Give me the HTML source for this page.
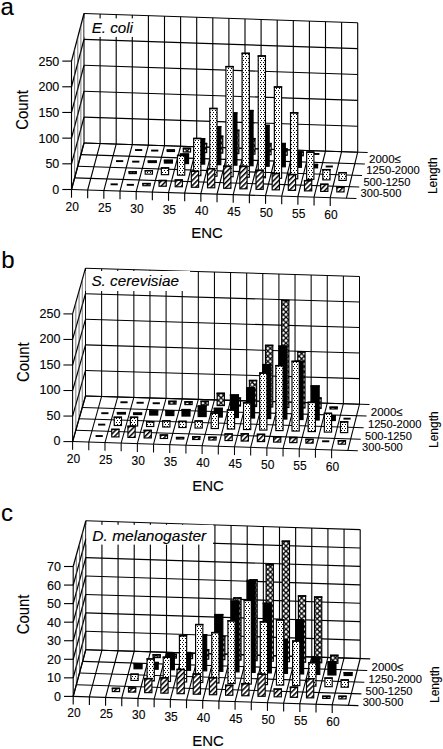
<!DOCTYPE html>
<html><head><meta charset="utf-8">
<style>
html,body{margin:0;padding:0;background:#fff;}
body{width:443px;height:749px;overflow:hidden;}
svg{display:block;}
text{font-family:"Liberation Sans",sans-serif;fill:#000;stroke:#000;stroke-width:0.12px;}
</style></head><body>
<svg width="443" height="749" viewBox="0 0 443 749">
<defs>
<pattern id="hatch" patternUnits="userSpaceOnUse" width="3.6" height="3.6" patternTransform="rotate(45)">
  <rect width="3.6" height="3.6" fill="#fff"/>
  <rect x="0" y="0" width="1.5" height="3.6" fill="#000"/>
</pattern>
<pattern id="dots" patternUnits="userSpaceOnUse" width="3" height="4">
  <rect width="3" height="4" fill="#fff"/>
  <rect x="0" y="0" width="1" height="1" fill="#000"/>
  <rect x="2" y="2" width="1" height="1" fill="#000"/>
</pattern>
<pattern id="xh" patternUnits="userSpaceOnUse" width="5.2" height="5.2">
  <rect width="5.2" height="5.2" fill="#fff"/>
  <path d="M-1,-1 L6.2,6.2 M6.2,-1 L-1,6.2" stroke="#000" stroke-width="1.3"/>
</pattern>
</defs>
<rect width="443" height="749" fill="#fff"/>
<polygon points="84,143 357.7,152.2 357.7,22.7 84,13.5" fill="#fff" stroke="none" stroke-width="0" />
<line x1="84" y1="143" x2="357.7" y2="152.2" stroke="#000" stroke-width="1.12"/>
<line x1="84" y1="117.1" x2="357.7" y2="126.3" stroke="#000" stroke-width="1.12"/>
<line x1="84" y1="91.2" x2="357.7" y2="100.4" stroke="#000" stroke-width="1.12"/>
<line x1="84" y1="65.3" x2="357.7" y2="74.5" stroke="#000" stroke-width="1.12"/>
<line x1="84" y1="39.4" x2="357.7" y2="48.6" stroke="#000" stroke-width="1.12"/>
<line x1="84" y1="13.5" x2="357.7" y2="22.7" stroke="#000" stroke-width="1.12"/>
<line x1="84" y1="143" x2="84" y2="13.5" stroke="#000" stroke-width="1.12"/>
<line x1="100.1" y1="143.54" x2="100.1" y2="14.04" stroke="#000" stroke-width="1.12"/>
<line x1="116.2" y1="144.08" x2="116.2" y2="14.58" stroke="#000" stroke-width="1.12"/>
<line x1="132.3" y1="144.62" x2="132.3" y2="15.12" stroke="#000" stroke-width="1.12"/>
<line x1="148.4" y1="145.16" x2="148.4" y2="15.66" stroke="#000" stroke-width="1.12"/>
<line x1="164.5" y1="145.71" x2="164.5" y2="16.21" stroke="#000" stroke-width="1.12"/>
<line x1="180.6" y1="146.25" x2="180.6" y2="16.75" stroke="#000" stroke-width="1.12"/>
<line x1="196.7" y1="146.79" x2="196.7" y2="17.29" stroke="#000" stroke-width="1.12"/>
<line x1="212.8" y1="147.33" x2="212.8" y2="17.83" stroke="#000" stroke-width="1.12"/>
<line x1="228.9" y1="147.87" x2="228.9" y2="18.37" stroke="#000" stroke-width="1.12"/>
<line x1="245" y1="148.41" x2="245" y2="18.91" stroke="#000" stroke-width="1.12"/>
<line x1="261.1" y1="148.95" x2="261.1" y2="19.45" stroke="#000" stroke-width="1.12"/>
<line x1="277.2" y1="149.49" x2="277.2" y2="19.99" stroke="#000" stroke-width="1.12"/>
<line x1="293.3" y1="150.04" x2="293.3" y2="20.54" stroke="#000" stroke-width="1.12"/>
<line x1="309.4" y1="150.58" x2="309.4" y2="21.08" stroke="#000" stroke-width="1.12"/>
<line x1="325.5" y1="151.12" x2="325.5" y2="21.62" stroke="#000" stroke-width="1.12"/>
<line x1="341.6" y1="151.66" x2="341.6" y2="22.16" stroke="#000" stroke-width="1.12"/>
<line x1="357.7" y1="152.2" x2="357.7" y2="22.7" stroke="#000" stroke-width="1.12"/>
<line x1="71.5" y1="189.5" x2="84" y2="143" stroke="#000" stroke-width="1.27"/>
<line x1="71.5" y1="163.82" x2="84" y2="117.1" stroke="#000" stroke-width="1.27"/>
<line x1="71.5" y1="138.14" x2="84" y2="91.2" stroke="#000" stroke-width="1.27"/>
<line x1="71.5" y1="112.46" x2="84" y2="65.3" stroke="#000" stroke-width="1.27"/>
<line x1="71.5" y1="86.78" x2="84" y2="39.4" stroke="#000" stroke-width="1.27"/>
<line x1="71.5" y1="61.1" x2="84" y2="13.5" stroke="#000" stroke-width="1.27"/>
<line x1="71.5" y1="189.5" x2="71.5" y2="61.1" stroke="#000" stroke-width="1.12"/>
<line x1="74.62" y1="177.88" x2="74.62" y2="49.2" stroke="#444" stroke-width="0.7"/>
<line x1="77.75" y1="166.25" x2="77.75" y2="37.3" stroke="#444" stroke-width="0.7"/>
<line x1="80.88" y1="154.62" x2="80.88" y2="25.4" stroke="#444" stroke-width="0.7"/>
<line x1="71.5" y1="189.5" x2="356.43" y2="198.52" stroke="#000" stroke-width="1.12"/>
<line x1="74.62" y1="177.88" x2="359.24" y2="187.02" stroke="#000" stroke-width="1.12"/>
<line x1="77.75" y1="166.25" x2="362.05" y2="175.53" stroke="#000" stroke-width="1.12"/>
<line x1="80.88" y1="154.62" x2="364.87" y2="164.03" stroke="#000" stroke-width="1.12"/>
<line x1="84" y1="143" x2="367.68" y2="152.54" stroke="#000" stroke-width="1.12"/>
<line x1="71.5" y1="189.5" x2="84" y2="143" stroke="#000" stroke-width="1.12"/>
<line x1="71.5" y1="189.5" x2="71.5" y2="197.7" stroke="#000" stroke-width="1.12"/>
<line x1="87.67" y1="190.01" x2="100.1" y2="143.54" stroke="#000" stroke-width="1.12"/>
<line x1="87.67" y1="190.01" x2="87.67" y2="198.21" stroke="#000" stroke-width="1.12"/>
<line x1="103.84" y1="190.52" x2="116.2" y2="144.08" stroke="#000" stroke-width="1.12"/>
<line x1="103.84" y1="190.52" x2="103.84" y2="198.72" stroke="#000" stroke-width="1.12"/>
<line x1="120.01" y1="191.04" x2="132.3" y2="144.62" stroke="#000" stroke-width="1.12"/>
<line x1="120.01" y1="191.04" x2="120.01" y2="199.24" stroke="#000" stroke-width="1.12"/>
<line x1="136.18" y1="191.55" x2="148.4" y2="145.16" stroke="#000" stroke-width="1.12"/>
<line x1="136.18" y1="191.55" x2="136.18" y2="199.75" stroke="#000" stroke-width="1.12"/>
<line x1="152.35" y1="192.06" x2="164.5" y2="145.71" stroke="#000" stroke-width="1.12"/>
<line x1="152.35" y1="192.06" x2="152.35" y2="200.26" stroke="#000" stroke-width="1.12"/>
<line x1="168.52" y1="192.57" x2="180.6" y2="146.25" stroke="#000" stroke-width="1.12"/>
<line x1="168.52" y1="192.57" x2="168.52" y2="200.77" stroke="#000" stroke-width="1.12"/>
<line x1="184.69" y1="193.08" x2="196.7" y2="146.79" stroke="#000" stroke-width="1.12"/>
<line x1="184.69" y1="193.08" x2="184.69" y2="201.28" stroke="#000" stroke-width="1.12"/>
<line x1="200.86" y1="193.59" x2="212.8" y2="147.33" stroke="#000" stroke-width="1.12"/>
<line x1="200.86" y1="193.59" x2="200.86" y2="201.79" stroke="#000" stroke-width="1.12"/>
<line x1="217.04" y1="194.11" x2="228.9" y2="147.87" stroke="#000" stroke-width="1.12"/>
<line x1="217.04" y1="194.11" x2="217.04" y2="202.31" stroke="#000" stroke-width="1.12"/>
<line x1="233.21" y1="194.62" x2="245" y2="148.41" stroke="#000" stroke-width="1.12"/>
<line x1="233.21" y1="194.62" x2="233.21" y2="202.82" stroke="#000" stroke-width="1.12"/>
<line x1="249.38" y1="195.13" x2="261.1" y2="148.95" stroke="#000" stroke-width="1.12"/>
<line x1="249.38" y1="195.13" x2="249.38" y2="203.33" stroke="#000" stroke-width="1.12"/>
<line x1="265.55" y1="195.64" x2="277.2" y2="149.49" stroke="#000" stroke-width="1.12"/>
<line x1="265.55" y1="195.64" x2="265.55" y2="203.84" stroke="#000" stroke-width="1.12"/>
<line x1="281.72" y1="196.15" x2="293.3" y2="150.04" stroke="#000" stroke-width="1.12"/>
<line x1="281.72" y1="196.15" x2="281.72" y2="204.35" stroke="#000" stroke-width="1.12"/>
<line x1="297.89" y1="196.66" x2="309.4" y2="150.58" stroke="#000" stroke-width="1.12"/>
<line x1="297.89" y1="196.66" x2="297.89" y2="204.86" stroke="#000" stroke-width="1.12"/>
<line x1="314.06" y1="197.18" x2="325.5" y2="151.12" stroke="#000" stroke-width="1.12"/>
<line x1="314.06" y1="197.18" x2="314.06" y2="205.38" stroke="#000" stroke-width="1.12"/>
<line x1="330.23" y1="197.69" x2="341.6" y2="151.66" stroke="#000" stroke-width="1.12"/>
<line x1="330.23" y1="197.69" x2="330.23" y2="205.89" stroke="#000" stroke-width="1.12"/>
<line x1="346.4" y1="198.2" x2="357.7" y2="152.2" stroke="#000" stroke-width="1.12"/>
<line x1="62.3" y1="189.5" x2="71.5" y2="189.5" stroke="#000" stroke-width="1.12"/>
<line x1="62.3" y1="163.82" x2="71.5" y2="163.82" stroke="#000" stroke-width="1.12"/>
<line x1="62.3" y1="138.14" x2="71.5" y2="138.14" stroke="#000" stroke-width="1.12"/>
<line x1="62.3" y1="112.46" x2="71.5" y2="112.46" stroke="#000" stroke-width="1.12"/>
<line x1="62.3" y1="86.78" x2="71.5" y2="86.78" stroke="#000" stroke-width="1.12"/>
<line x1="62.3" y1="61.1" x2="71.5" y2="61.1" stroke="#000" stroke-width="1.12"/>
<rect x="84.5" y="18.4" width="55.5" height="18.5" fill="#fff"/>
<text x="91.7" y="33.3" style="font-size:14px;font-style:italic;" text-anchor="start" textLength="41.3" lengthAdjust="spacingAndGlyphs" >E. coli</text>
<rect x="135.02" y="149.09" width="7.2" height="1.9" fill="#000"/>
<rect x="151.13" y="149.63" width="7.2" height="1.9" fill="#000"/>
<rect x="167.21" y="149.94" width="7.25" height="1.55" fill="url(#xh)" stroke="#000" stroke-width="1.15"/>
<rect x="166.64" y="149.37" width="8.4" height="1.5" fill="#000"/>
<rect x="183.32" y="148.18" width="7.25" height="3.85" fill="url(#xh)" stroke="#000" stroke-width="1.15"/>
<rect x="182.74" y="147.61" width="8.4" height="1.5" fill="#000"/>
<rect x="199.43" y="143.42" width="7.25" height="9.15" fill="url(#xh)" stroke="#000" stroke-width="1.15"/>
<rect x="198.85" y="142.84" width="8.4" height="1.5" fill="#000"/>
<rect x="215.54" y="136.16" width="7.25" height="16.95" fill="url(#xh)" stroke="#000" stroke-width="1.15"/>
<rect x="214.96" y="135.58" width="8.4" height="1.5" fill="#000"/>
<rect x="231.65" y="130.19" width="7.25" height="23.45" fill="url(#xh)" stroke="#000" stroke-width="1.15"/>
<rect x="231.07" y="129.62" width="8.4" height="1.5" fill="#000"/>
<rect x="247.76" y="138.53" width="7.25" height="15.65" fill="url(#xh)" stroke="#000" stroke-width="1.15"/>
<rect x="247.18" y="137.96" width="8.4" height="1.5" fill="#000"/>
<rect x="263.86" y="143.47" width="7.25" height="11.25" fill="url(#xh)" stroke="#000" stroke-width="1.15"/>
<rect x="263.29" y="142.89" width="8.4" height="1.5" fill="#000"/>
<rect x="279.97" y="148.91" width="7.25" height="6.35" fill="url(#xh)" stroke="#000" stroke-width="1.15"/>
<rect x="279.4" y="148.33" width="8.4" height="1.5" fill="#000"/>
<rect x="296.08" y="151.94" width="7.25" height="3.85" fill="url(#xh)" stroke="#000" stroke-width="1.15"/>
<rect x="295.51" y="151.37" width="8.4" height="1.5" fill="#000"/>
<rect x="312.22" y="153.01" width="7.2" height="1.9" fill="#000"/>
<rect x="116.03" y="160.16" width="7.2" height="1.9" fill="#000"/>
<rect x="132.16" y="160.69" width="7.2" height="1.9" fill="#000"/>
<rect x="148.26" y="161" width="8.05" height="1.55" fill="#000" stroke="#000" stroke-width="1.15"/>
<rect x="147.68" y="160.42" width="9.2" height="1.5" fill="#000"/>
<rect x="164.38" y="160.23" width="8.05" height="2.85" fill="#000" stroke="#000" stroke-width="1.15"/>
<rect x="163.81" y="159.65" width="9.2" height="1.5" fill="#000"/>
<rect x="180.51" y="153.96" width="8.05" height="9.65" fill="#000" stroke="#000" stroke-width="1.15"/>
<rect x="179.93" y="153.38" width="9.2" height="1.5" fill="#000"/>
<rect x="196.64" y="138.59" width="8.05" height="25.55" fill="#000" stroke="#000" stroke-width="1.15"/>
<rect x="196.06" y="138.01" width="9.2" height="1.5" fill="#000"/>
<rect x="212.76" y="126.62" width="8.05" height="38.05" fill="#000" stroke="#000" stroke-width="1.15"/>
<rect x="212.19" y="126.04" width="9.2" height="1.5" fill="#000"/>
<rect x="228.89" y="112.85" width="8.05" height="52.35" fill="#000" stroke="#000" stroke-width="1.15"/>
<rect x="228.31" y="112.27" width="9.2" height="1.5" fill="#000"/>
<rect x="245.02" y="110.48" width="8.05" height="55.25" fill="#000" stroke="#000" stroke-width="1.15"/>
<rect x="244.44" y="109.9" width="9.2" height="1.5" fill="#000"/>
<rect x="261.14" y="125.31" width="8.05" height="40.95" fill="#000" stroke="#000" stroke-width="1.15"/>
<rect x="260.57" y="124.73" width="9.2" height="1.5" fill="#000"/>
<rect x="277.27" y="143.44" width="8.05" height="23.35" fill="#000" stroke="#000" stroke-width="1.15"/>
<rect x="276.69" y="142.86" width="9.2" height="1.5" fill="#000"/>
<rect x="293.39" y="152.07" width="8.05" height="15.25" fill="#000" stroke="#000" stroke-width="1.15"/>
<rect x="292.82" y="151.49" width="9.2" height="1.5" fill="#000"/>
<rect x="309.52" y="164.4" width="8.05" height="3.45" fill="#000" stroke="#000" stroke-width="1.15"/>
<rect x="308.95" y="163.82" width="9.2" height="1.5" fill="#000"/>
<rect x="325.67" y="165.55" width="7.2" height="1.9" fill="#000"/>
<rect x="129.07" y="171.77" width="7.25" height="1.85" fill="url(#dots)" stroke="#000" stroke-width="1.15"/>
<rect x="128.49" y="171.19" width="8.4" height="1.5" fill="#000"/>
<rect x="145.21" y="170.59" width="7.25" height="3.55" fill="url(#dots)" stroke="#000" stroke-width="1.15"/>
<rect x="144.64" y="170.02" width="8.4" height="1.5" fill="#000"/>
<rect x="161.36" y="167.81" width="7.25" height="6.85" fill="url(#dots)" stroke="#000" stroke-width="1.15"/>
<rect x="160.78" y="167.24" width="8.4" height="1.5" fill="#000"/>
<rect x="177.5" y="155.34" width="7.25" height="19.85" fill="url(#dots)" stroke="#000" stroke-width="1.15"/>
<rect x="176.92" y="154.76" width="8.4" height="1.5" fill="#000"/>
<rect x="193.64" y="138.36" width="7.25" height="37.35" fill="url(#dots)" stroke="#000" stroke-width="1.15"/>
<rect x="193.07" y="137.78" width="8.4" height="1.5" fill="#000"/>
<rect x="209.79" y="108.38" width="7.25" height="67.85" fill="url(#dots)" stroke="#000" stroke-width="1.15"/>
<rect x="209.21" y="107.81" width="8.4" height="1.5" fill="#000"/>
<rect x="225.93" y="66.5" width="7.25" height="110.25" fill="url(#dots)" stroke="#000" stroke-width="1.15"/>
<rect x="225.36" y="65.93" width="8.4" height="1.5" fill="#000"/>
<rect x="242.08" y="53.23" width="7.25" height="124.05" fill="url(#dots)" stroke="#000" stroke-width="1.15"/>
<rect x="241.5" y="52.65" width="8.4" height="1.5" fill="#000"/>
<rect x="258.22" y="55.85" width="7.25" height="121.95" fill="url(#dots)" stroke="#000" stroke-width="1.15"/>
<rect x="257.64" y="55.27" width="8.4" height="1.5" fill="#000"/>
<rect x="274.36" y="86.87" width="7.25" height="91.45" fill="url(#dots)" stroke="#000" stroke-width="1.15"/>
<rect x="273.79" y="86.3" width="8.4" height="1.5" fill="#000"/>
<rect x="290.51" y="112.7" width="7.25" height="66.15" fill="url(#dots)" stroke="#000" stroke-width="1.15"/>
<rect x="289.93" y="112.12" width="8.4" height="1.5" fill="#000"/>
<rect x="306.65" y="152.02" width="7.25" height="27.35" fill="url(#dots)" stroke="#000" stroke-width="1.15"/>
<rect x="306.08" y="151.44" width="8.4" height="1.5" fill="#000"/>
<rect x="322.8" y="169.54" width="7.25" height="10.35" fill="url(#dots)" stroke="#000" stroke-width="1.15"/>
<rect x="322.22" y="168.97" width="8.4" height="1.5" fill="#000"/>
<rect x="338.94" y="172.56" width="7.25" height="7.85" fill="url(#dots)" stroke="#000" stroke-width="1.15"/>
<rect x="338.37" y="171.99" width="8.4" height="1.5" fill="#000"/>
<rect x="110.57" y="183.38" width="7.2" height="1.9" fill="#000"/>
<rect x="126.73" y="183.89" width="7.2" height="1.9" fill="#000"/>
<rect x="142.87" y="183.48" width="7.25" height="2.25" fill="url(#hatch)" stroke="#000" stroke-width="1.15"/>
<rect x="142.29" y="182.91" width="8.4" height="1.5" fill="#000"/>
<rect x="159.03" y="180.4" width="7.25" height="5.85" fill="url(#hatch)" stroke="#000" stroke-width="1.15"/>
<rect x="158.45" y="179.82" width="8.4" height="1.5" fill="#000"/>
<rect x="175.19" y="179.91" width="7.25" height="6.85" fill="url(#hatch)" stroke="#000" stroke-width="1.15"/>
<rect x="174.61" y="179.34" width="8.4" height="1.5" fill="#000"/>
<rect x="191.35" y="171.13" width="7.25" height="16.15" fill="url(#hatch)" stroke="#000" stroke-width="1.15"/>
<rect x="190.78" y="170.55" width="8.4" height="1.5" fill="#000"/>
<rect x="207.51" y="168.54" width="7.25" height="19.25" fill="url(#hatch)" stroke="#000" stroke-width="1.15"/>
<rect x="206.94" y="167.97" width="8.4" height="1.5" fill="#000"/>
<rect x="223.67" y="166.16" width="7.25" height="22.15" fill="url(#hatch)" stroke="#000" stroke-width="1.15"/>
<rect x="223.1" y="165.58" width="8.4" height="1.5" fill="#000"/>
<rect x="239.84" y="166.17" width="7.25" height="22.65" fill="url(#hatch)" stroke="#000" stroke-width="1.15"/>
<rect x="239.26" y="165.6" width="8.4" height="1.5" fill="#000"/>
<rect x="256" y="170.19" width="7.25" height="19.15" fill="url(#hatch)" stroke="#000" stroke-width="1.15"/>
<rect x="255.42" y="169.62" width="8.4" height="1.5" fill="#000"/>
<rect x="272.16" y="173.41" width="7.25" height="16.45" fill="url(#hatch)" stroke="#000" stroke-width="1.15"/>
<rect x="271.58" y="172.83" width="8.4" height="1.5" fill="#000"/>
<rect x="288.32" y="174.42" width="7.25" height="15.95" fill="url(#hatch)" stroke="#000" stroke-width="1.15"/>
<rect x="287.75" y="173.85" width="8.4" height="1.5" fill="#000"/>
<rect x="304.48" y="180.54" width="7.25" height="10.35" fill="url(#hatch)" stroke="#000" stroke-width="1.15"/>
<rect x="303.91" y="179.96" width="8.4" height="1.5" fill="#000"/>
<rect x="320.64" y="184.15" width="7.25" height="7.25" fill="url(#hatch)" stroke="#000" stroke-width="1.15"/>
<rect x="320.07" y="183.58" width="8.4" height="1.5" fill="#000"/>
<rect x="336.81" y="187.07" width="7.25" height="4.85" fill="url(#hatch)" stroke="#000" stroke-width="1.15"/>
<rect x="336.23" y="186.49" width="8.4" height="1.5" fill="#000"/>
<text x="59.3" y="194.1" style="font-size:12.5px;" text-anchor="end" >0</text>
<text x="59.3" y="168.42" style="font-size:12.5px;" text-anchor="end" >50</text>
<text x="59.3" y="142.74" style="font-size:12.5px;" text-anchor="end" >100</text>
<text x="59.3" y="117.06" style="font-size:12.5px;" text-anchor="end" >150</text>
<text x="59.3" y="91.38" style="font-size:12.5px;" text-anchor="end" >200</text>
<text x="59.3" y="65.7" style="font-size:12.5px;" text-anchor="end" >250</text>
<text x="72.3" y="210.5" style="font-size:12px;" text-anchor="middle" >20</text>
<text x="104.64" y="211.52" style="font-size:12px;" text-anchor="middle" >25</text>
<text x="136.98" y="212.55" style="font-size:12px;" text-anchor="middle" >30</text>
<text x="169.32" y="213.57" style="font-size:12px;" text-anchor="middle" >35</text>
<text x="201.66" y="214.59" style="font-size:12px;" text-anchor="middle" >40</text>
<text x="234.01" y="215.62" style="font-size:12px;" text-anchor="middle" >45</text>
<text x="266.35" y="216.64" style="font-size:12px;" text-anchor="middle" >50</text>
<text x="298.69" y="217.66" style="font-size:12px;" text-anchor="middle" >55</text>
<text x="331.03" y="218.69" style="font-size:12px;" text-anchor="middle" >60</text>
<text x="360.61" y="197.45" style="font-size:11.5px;" text-anchor="start" textLength="40.7" lengthAdjust="spacingAndGlyphs" >300-500</text>
<text x="363.44" y="185.95" style="font-size:11.5px;" text-anchor="start" textLength="46.9" lengthAdjust="spacingAndGlyphs" >500-1250</text>
<text x="366.26" y="174.45" style="font-size:11.5px;" text-anchor="start" textLength="53.5" lengthAdjust="spacingAndGlyphs" >1250-2000</text>
<text x="369.09" y="162.95" style="font-size:11.5px;" text-anchor="start" textLength="31.8" lengthAdjust="spacingAndGlyphs" >2000≤</text>
<text x="191.3" y="238.1" style="font-size:14.5px;" text-anchor="start" textLength="31.6" lengthAdjust="spacingAndGlyphs" >ENC</text>
<text x="28" y="129.7" style="font-size:16.8px;" text-anchor="start" textLength="39.6" lengthAdjust="spacingAndGlyphs" transform="rotate(-90 28 129.7)" >Count</text>
<text x="437.1" y="194.1" style="font-size:13.2px;" text-anchor="start" textLength="36.7" lengthAdjust="spacingAndGlyphs" transform="rotate(-90 437.1 194.1)" >Length</text>
<text x="0.5" y="14.8" style="font-size:24px;" text-anchor="start" >a</text>
<polygon points="85.5,396 359.5,404.2 359.5,276.4 85.5,268.2" fill="#fff" stroke="none" stroke-width="0" />
<line x1="85.5" y1="396" x2="359.5" y2="404.2" stroke="#000" stroke-width="1.05"/>
<line x1="85.5" y1="370.44" x2="359.5" y2="378.64" stroke="#000" stroke-width="1.05"/>
<line x1="85.5" y1="344.88" x2="359.5" y2="353.08" stroke="#000" stroke-width="1.05"/>
<line x1="85.5" y1="319.32" x2="359.5" y2="327.52" stroke="#000" stroke-width="1.05"/>
<line x1="85.5" y1="293.76" x2="359.5" y2="301.96" stroke="#000" stroke-width="1.05"/>
<line x1="85.5" y1="268.2" x2="359.5" y2="276.4" stroke="#000" stroke-width="1.05"/>
<line x1="85.5" y1="396" x2="85.5" y2="268.2" stroke="#000" stroke-width="1.05"/>
<line x1="101.62" y1="396.48" x2="101.62" y2="268.68" stroke="#000" stroke-width="1.05"/>
<line x1="117.74" y1="396.96" x2="117.74" y2="269.16" stroke="#000" stroke-width="1.05"/>
<line x1="133.85" y1="397.45" x2="133.85" y2="269.65" stroke="#000" stroke-width="1.05"/>
<line x1="149.97" y1="397.93" x2="149.97" y2="270.13" stroke="#000" stroke-width="1.05"/>
<line x1="166.09" y1="398.41" x2="166.09" y2="270.61" stroke="#000" stroke-width="1.05"/>
<line x1="182.21" y1="398.89" x2="182.21" y2="271.09" stroke="#000" stroke-width="1.05"/>
<line x1="198.32" y1="399.38" x2="198.32" y2="271.58" stroke="#000" stroke-width="1.05"/>
<line x1="214.44" y1="399.86" x2="214.44" y2="272.06" stroke="#000" stroke-width="1.05"/>
<line x1="230.56" y1="400.34" x2="230.56" y2="272.54" stroke="#000" stroke-width="1.05"/>
<line x1="246.68" y1="400.82" x2="246.68" y2="273.02" stroke="#000" stroke-width="1.05"/>
<line x1="262.79" y1="401.31" x2="262.79" y2="273.51" stroke="#000" stroke-width="1.05"/>
<line x1="278.91" y1="401.79" x2="278.91" y2="273.99" stroke="#000" stroke-width="1.05"/>
<line x1="295.03" y1="402.27" x2="295.03" y2="274.47" stroke="#000" stroke-width="1.05"/>
<line x1="311.15" y1="402.75" x2="311.15" y2="274.95" stroke="#000" stroke-width="1.05"/>
<line x1="327.26" y1="403.24" x2="327.26" y2="275.44" stroke="#000" stroke-width="1.05"/>
<line x1="343.38" y1="403.72" x2="343.38" y2="275.92" stroke="#000" stroke-width="1.05"/>
<line x1="359.5" y1="404.2" x2="359.5" y2="276.4" stroke="#000" stroke-width="1.05"/>
<line x1="72.6" y1="441.6" x2="85.5" y2="396" stroke="#000" stroke-width="1.2"/>
<line x1="72.6" y1="416.06" x2="85.5" y2="370.44" stroke="#000" stroke-width="1.2"/>
<line x1="72.6" y1="390.52" x2="85.5" y2="344.88" stroke="#000" stroke-width="1.2"/>
<line x1="72.6" y1="364.98" x2="85.5" y2="319.32" stroke="#000" stroke-width="1.2"/>
<line x1="72.6" y1="339.44" x2="85.5" y2="293.76" stroke="#000" stroke-width="1.2"/>
<line x1="72.6" y1="313.9" x2="85.5" y2="268.2" stroke="#000" stroke-width="1.2"/>
<line x1="72.6" y1="441.6" x2="72.6" y2="313.9" stroke="#000" stroke-width="1.05"/>
<line x1="75.82" y1="430.2" x2="75.82" y2="302.48" stroke="#444" stroke-width="0.7"/>
<line x1="79.05" y1="418.8" x2="79.05" y2="291.05" stroke="#444" stroke-width="0.7"/>
<line x1="82.28" y1="407.4" x2="82.28" y2="279.62" stroke="#444" stroke-width="0.7"/>
<line x1="72.6" y1="441.6" x2="357.84" y2="450.82" stroke="#000" stroke-width="1.05"/>
<line x1="75.82" y1="430.2" x2="360.75" y2="439.24" stroke="#000" stroke-width="1.05"/>
<line x1="79.05" y1="418.8" x2="363.66" y2="427.66" stroke="#000" stroke-width="1.05"/>
<line x1="82.28" y1="407.4" x2="366.58" y2="416.08" stroke="#000" stroke-width="1.05"/>
<line x1="85.5" y1="396" x2="369.49" y2="404.5" stroke="#000" stroke-width="1.05"/>
<line x1="72.6" y1="441.6" x2="85.5" y2="396" stroke="#000" stroke-width="1.05"/>
<line x1="72.6" y1="441.6" x2="72.6" y2="449.8" stroke="#000" stroke-width="1.05"/>
<line x1="88.79" y1="442.12" x2="101.62" y2="396.48" stroke="#000" stroke-width="1.05"/>
<line x1="88.79" y1="442.12" x2="88.79" y2="450.32" stroke="#000" stroke-width="1.05"/>
<line x1="104.98" y1="442.65" x2="117.74" y2="396.96" stroke="#000" stroke-width="1.05"/>
<line x1="104.98" y1="442.65" x2="104.98" y2="450.85" stroke="#000" stroke-width="1.05"/>
<line x1="121.16" y1="443.17" x2="133.85" y2="397.45" stroke="#000" stroke-width="1.05"/>
<line x1="121.16" y1="443.17" x2="121.16" y2="451.37" stroke="#000" stroke-width="1.05"/>
<line x1="137.35" y1="443.69" x2="149.97" y2="397.93" stroke="#000" stroke-width="1.05"/>
<line x1="137.35" y1="443.69" x2="137.35" y2="451.89" stroke="#000" stroke-width="1.05"/>
<line x1="153.54" y1="444.22" x2="166.09" y2="398.41" stroke="#000" stroke-width="1.05"/>
<line x1="153.54" y1="444.22" x2="153.54" y2="452.42" stroke="#000" stroke-width="1.05"/>
<line x1="169.73" y1="444.74" x2="182.21" y2="398.89" stroke="#000" stroke-width="1.05"/>
<line x1="169.73" y1="444.74" x2="169.73" y2="452.94" stroke="#000" stroke-width="1.05"/>
<line x1="185.92" y1="445.26" x2="198.32" y2="399.38" stroke="#000" stroke-width="1.05"/>
<line x1="185.92" y1="445.26" x2="185.92" y2="453.46" stroke="#000" stroke-width="1.05"/>
<line x1="202.11" y1="445.79" x2="214.44" y2="399.86" stroke="#000" stroke-width="1.05"/>
<line x1="202.11" y1="445.79" x2="202.11" y2="453.99" stroke="#000" stroke-width="1.05"/>
<line x1="218.29" y1="446.31" x2="230.56" y2="400.34" stroke="#000" stroke-width="1.05"/>
<line x1="218.29" y1="446.31" x2="218.29" y2="454.51" stroke="#000" stroke-width="1.05"/>
<line x1="234.48" y1="446.84" x2="246.68" y2="400.82" stroke="#000" stroke-width="1.05"/>
<line x1="234.48" y1="446.84" x2="234.48" y2="455.04" stroke="#000" stroke-width="1.05"/>
<line x1="250.67" y1="447.36" x2="262.79" y2="401.31" stroke="#000" stroke-width="1.05"/>
<line x1="250.67" y1="447.36" x2="250.67" y2="455.56" stroke="#000" stroke-width="1.05"/>
<line x1="266.86" y1="447.88" x2="278.91" y2="401.79" stroke="#000" stroke-width="1.05"/>
<line x1="266.86" y1="447.88" x2="266.86" y2="456.08" stroke="#000" stroke-width="1.05"/>
<line x1="283.05" y1="448.41" x2="295.03" y2="402.27" stroke="#000" stroke-width="1.05"/>
<line x1="283.05" y1="448.41" x2="283.05" y2="456.61" stroke="#000" stroke-width="1.05"/>
<line x1="299.24" y1="448.93" x2="311.15" y2="402.75" stroke="#000" stroke-width="1.05"/>
<line x1="299.24" y1="448.93" x2="299.24" y2="457.13" stroke="#000" stroke-width="1.05"/>
<line x1="315.42" y1="449.45" x2="327.26" y2="403.24" stroke="#000" stroke-width="1.05"/>
<line x1="315.42" y1="449.45" x2="315.42" y2="457.65" stroke="#000" stroke-width="1.05"/>
<line x1="331.61" y1="449.98" x2="343.38" y2="403.72" stroke="#000" stroke-width="1.05"/>
<line x1="331.61" y1="449.98" x2="331.61" y2="458.18" stroke="#000" stroke-width="1.05"/>
<line x1="347.8" y1="450.5" x2="359.5" y2="404.2" stroke="#000" stroke-width="1.05"/>
<line x1="63.4" y1="441.6" x2="72.6" y2="441.6" stroke="#000" stroke-width="1.05"/>
<line x1="63.4" y1="416.06" x2="72.6" y2="416.06" stroke="#000" stroke-width="1.05"/>
<line x1="63.4" y1="390.52" x2="72.6" y2="390.52" stroke="#000" stroke-width="1.05"/>
<line x1="63.4" y1="364.98" x2="72.6" y2="364.98" stroke="#000" stroke-width="1.05"/>
<line x1="63.4" y1="339.44" x2="72.6" y2="339.44" stroke="#000" stroke-width="1.05"/>
<line x1="63.4" y1="313.9" x2="72.6" y2="313.9" stroke="#000" stroke-width="1.05"/>
<rect x="85.5" y="271" width="104.5" height="20" fill="#fff"/>
<text x="91.4" y="286.1" style="font-size:14px;font-style:italic;" text-anchor="start" textLength="87.5" lengthAdjust="spacingAndGlyphs" >S. cerevisiae</text>
<rect x="120.4" y="401.32" width="7.2" height="1.9" fill="#000"/>
<rect x="136.53" y="401.81" width="7.2" height="1.9" fill="#000"/>
<rect x="152.66" y="402.29" width="7.2" height="1.9" fill="#000"/>
<rect x="168.76" y="401.26" width="7.25" height="2.85" fill="url(#xh)" stroke="#000" stroke-width="1.15"/>
<rect x="168.18" y="400.68" width="8.4" height="1.5" fill="#000"/>
<rect x="184.88" y="401.74" width="7.25" height="2.85" fill="url(#xh)" stroke="#000" stroke-width="1.15"/>
<rect x="184.31" y="401.17" width="8.4" height="1.5" fill="#000"/>
<rect x="201.01" y="401.23" width="7.25" height="3.85" fill="url(#xh)" stroke="#000" stroke-width="1.15"/>
<rect x="200.44" y="400.66" width="8.4" height="1.5" fill="#000"/>
<rect x="217.14" y="393.22" width="7.25" height="12.35" fill="url(#xh)" stroke="#000" stroke-width="1.15"/>
<rect x="216.56" y="392.64" width="8.4" height="1.5" fill="#000"/>
<rect x="233.26" y="398.01" width="7.25" height="8.05" fill="url(#xh)" stroke="#000" stroke-width="1.15"/>
<rect x="232.69" y="397.43" width="8.4" height="1.5" fill="#000"/>
<rect x="249.39" y="380.39" width="7.25" height="26.15" fill="url(#xh)" stroke="#000" stroke-width="1.15"/>
<rect x="248.82" y="379.82" width="8.4" height="1.5" fill="#000"/>
<rect x="265.52" y="345.28" width="7.25" height="61.75" fill="url(#xh)" stroke="#000" stroke-width="1.15"/>
<rect x="264.94" y="344.71" width="8.4" height="1.5" fill="#000"/>
<rect x="281.64" y="300.47" width="7.25" height="107.05" fill="url(#xh)" stroke="#000" stroke-width="1.15"/>
<rect x="281.07" y="299.89" width="8.4" height="1.5" fill="#000"/>
<rect x="297.77" y="351.66" width="7.25" height="56.35" fill="url(#xh)" stroke="#000" stroke-width="1.15"/>
<rect x="297.19" y="351.08" width="8.4" height="1.5" fill="#000"/>
<rect x="313.9" y="397.94" width="7.25" height="10.55" fill="url(#xh)" stroke="#000" stroke-width="1.15"/>
<rect x="313.32" y="397.37" width="8.4" height="1.5" fill="#000"/>
<rect x="330.02" y="407.13" width="7.25" height="1.85" fill="url(#xh)" stroke="#000" stroke-width="1.15"/>
<rect x="329.45" y="406.56" width="8.4" height="1.5" fill="#000"/>
<rect x="101.28" y="412.25" width="7.2" height="1.9" fill="#000"/>
<rect x="117.4" y="412.52" width="8.05" height="1.55" fill="#000" stroke="#000" stroke-width="1.15"/>
<rect x="116.82" y="411.94" width="9.2" height="1.5" fill="#000"/>
<rect x="133.54" y="413.02" width="8.05" height="1.55" fill="#000" stroke="#000" stroke-width="1.15"/>
<rect x="132.97" y="412.44" width="9.2" height="1.5" fill="#000"/>
<rect x="149.69" y="410.82" width="8.05" height="4.25" fill="#000" stroke="#000" stroke-width="1.15"/>
<rect x="149.11" y="410.24" width="9.2" height="1.5" fill="#000"/>
<rect x="165.83" y="410.71" width="8.05" height="4.85" fill="#000" stroke="#000" stroke-width="1.15"/>
<rect x="165.26" y="410.14" width="9.2" height="1.5" fill="#000"/>
<rect x="181.97" y="409.51" width="8.05" height="6.55" fill="#000" stroke="#000" stroke-width="1.15"/>
<rect x="181.4" y="408.94" width="9.2" height="1.5" fill="#000"/>
<rect x="198.12" y="405.91" width="8.05" height="10.65" fill="#000" stroke="#000" stroke-width="1.15"/>
<rect x="197.54" y="405.33" width="9.2" height="1.5" fill="#000"/>
<rect x="214.26" y="408.31" width="8.05" height="8.75" fill="#000" stroke="#000" stroke-width="1.15"/>
<rect x="213.69" y="407.73" width="9.2" height="1.5" fill="#000"/>
<rect x="230.41" y="394.9" width="8.05" height="22.65" fill="#000" stroke="#000" stroke-width="1.15"/>
<rect x="229.83" y="394.33" width="9.2" height="1.5" fill="#000"/>
<rect x="246.55" y="387.8" width="8.05" height="30.25" fill="#000" stroke="#000" stroke-width="1.15"/>
<rect x="245.98" y="387.23" width="9.2" height="1.5" fill="#000"/>
<rect x="262.69" y="364.5" width="8.05" height="54.05" fill="#000" stroke="#000" stroke-width="1.15"/>
<rect x="262.12" y="363.92" width="9.2" height="1.5" fill="#000"/>
<rect x="278.84" y="346" width="8.05" height="73.05" fill="#000" stroke="#000" stroke-width="1.15"/>
<rect x="278.26" y="345.42" width="9.2" height="1.5" fill="#000"/>
<rect x="294.98" y="361.3" width="8.05" height="58.25" fill="#000" stroke="#000" stroke-width="1.15"/>
<rect x="294.41" y="360.72" width="9.2" height="1.5" fill="#000"/>
<rect x="311.13" y="385.89" width="8.05" height="34.15" fill="#000" stroke="#000" stroke-width="1.15"/>
<rect x="310.55" y="385.32" width="9.2" height="1.5" fill="#000"/>
<rect x="327.27" y="415.69" width="8.05" height="4.85" fill="#000" stroke="#000" stroke-width="1.15"/>
<rect x="326.7" y="415.12" width="9.2" height="1.5" fill="#000"/>
<rect x="343.44" y="417.71" width="7.2" height="1.9" fill="#000"/>
<rect x="98.08" y="423.66" width="7.2" height="1.9" fill="#000"/>
<rect x="114.22" y="417.15" width="7.25" height="8.35" fill="url(#dots)" stroke="#000" stroke-width="1.15"/>
<rect x="113.64" y="416.57" width="8.4" height="1.5" fill="#000"/>
<rect x="130.38" y="417.15" width="7.25" height="8.85" fill="url(#dots)" stroke="#000" stroke-width="1.15"/>
<rect x="129.8" y="416.58" width="8.4" height="1.5" fill="#000"/>
<rect x="146.54" y="421.66" width="7.25" height="4.85" fill="url(#dots)" stroke="#000" stroke-width="1.15"/>
<rect x="145.97" y="421.09" width="8.4" height="1.5" fill="#000"/>
<rect x="162.7" y="420.77" width="7.25" height="6.25" fill="url(#dots)" stroke="#000" stroke-width="1.15"/>
<rect x="162.13" y="420.19" width="8.4" height="1.5" fill="#000"/>
<rect x="178.86" y="421.28" width="7.25" height="6.25" fill="url(#dots)" stroke="#000" stroke-width="1.15"/>
<rect x="178.29" y="420.7" width="8.4" height="1.5" fill="#000"/>
<rect x="195.03" y="420.89" width="7.25" height="7.15" fill="url(#dots)" stroke="#000" stroke-width="1.15"/>
<rect x="194.45" y="420.31" width="8.4" height="1.5" fill="#000"/>
<rect x="211.19" y="412.99" width="7.25" height="15.55" fill="url(#dots)" stroke="#000" stroke-width="1.15"/>
<rect x="210.61" y="412.42" width="8.4" height="1.5" fill="#000"/>
<rect x="227.35" y="409.9" width="7.25" height="19.15" fill="url(#dots)" stroke="#000" stroke-width="1.15"/>
<rect x="226.77" y="409.33" width="8.4" height="1.5" fill="#000"/>
<rect x="243.51" y="402.71" width="7.25" height="26.85" fill="url(#dots)" stroke="#000" stroke-width="1.15"/>
<rect x="242.94" y="402.13" width="8.4" height="1.5" fill="#000"/>
<rect x="259.67" y="372.92" width="7.25" height="57.15" fill="url(#dots)" stroke="#000" stroke-width="1.15"/>
<rect x="259.1" y="372.34" width="8.4" height="1.5" fill="#000"/>
<rect x="275.83" y="365.53" width="7.25" height="65.05" fill="url(#dots)" stroke="#000" stroke-width="1.15"/>
<rect x="275.26" y="364.95" width="8.4" height="1.5" fill="#000"/>
<rect x="292" y="361.23" width="7.25" height="69.85" fill="url(#dots)" stroke="#000" stroke-width="1.15"/>
<rect x="291.42" y="360.66" width="8.4" height="1.5" fill="#000"/>
<rect x="308.16" y="402.24" width="7.25" height="29.35" fill="url(#dots)" stroke="#000" stroke-width="1.15"/>
<rect x="307.58" y="401.67" width="8.4" height="1.5" fill="#000"/>
<rect x="324.32" y="413.25" width="7.25" height="18.85" fill="url(#dots)" stroke="#000" stroke-width="1.15"/>
<rect x="323.74" y="412.68" width="8.4" height="1.5" fill="#000"/>
<rect x="340.48" y="421.76" width="7.25" height="10.85" fill="url(#dots)" stroke="#000" stroke-width="1.15"/>
<rect x="339.91" y="421.18" width="8.4" height="1.5" fill="#000"/>
<rect x="95.58" y="435.08" width="7.2" height="1.9" fill="#000"/>
<rect x="111.74" y="429.27" width="7.25" height="7.65" fill="url(#hatch)" stroke="#000" stroke-width="1.15"/>
<rect x="111.16" y="428.7" width="8.4" height="1.5" fill="#000"/>
<rect x="127.92" y="426.19" width="7.25" height="11.25" fill="url(#hatch)" stroke="#000" stroke-width="1.15"/>
<rect x="127.34" y="425.61" width="8.4" height="1.5" fill="#000"/>
<rect x="144.09" y="430.31" width="7.25" height="7.65" fill="url(#hatch)" stroke="#000" stroke-width="1.15"/>
<rect x="143.52" y="429.73" width="8.4" height="1.5" fill="#000"/>
<rect x="160.27" y="434.93" width="7.25" height="3.55" fill="url(#hatch)" stroke="#000" stroke-width="1.15"/>
<rect x="159.7" y="434.35" width="8.4" height="1.5" fill="#000"/>
<rect x="176.45" y="437.44" width="7.25" height="1.55" fill="url(#hatch)" stroke="#000" stroke-width="1.15"/>
<rect x="175.88" y="436.87" width="8.4" height="1.5" fill="#000"/>
<rect x="192.63" y="436.66" width="7.25" height="2.85" fill="url(#hatch)" stroke="#000" stroke-width="1.15"/>
<rect x="192.06" y="436.09" width="8.4" height="1.5" fill="#000"/>
<rect x="208.81" y="437.18" width="7.25" height="2.85" fill="url(#hatch)" stroke="#000" stroke-width="1.15"/>
<rect x="208.24" y="436.61" width="8.4" height="1.5" fill="#000"/>
<rect x="224.99" y="433.9" width="7.25" height="6.65" fill="url(#hatch)" stroke="#000" stroke-width="1.15"/>
<rect x="224.42" y="433.32" width="8.4" height="1.5" fill="#000"/>
<rect x="241.17" y="433.72" width="7.25" height="7.35" fill="url(#hatch)" stroke="#000" stroke-width="1.15"/>
<rect x="240.6" y="433.14" width="8.4" height="1.5" fill="#000"/>
<rect x="257.35" y="434.24" width="7.25" height="7.35" fill="url(#hatch)" stroke="#000" stroke-width="1.15"/>
<rect x="256.78" y="433.66" width="8.4" height="1.5" fill="#000"/>
<rect x="273.53" y="436.85" width="7.25" height="5.25" fill="url(#hatch)" stroke="#000" stroke-width="1.15"/>
<rect x="272.96" y="436.28" width="8.4" height="1.5" fill="#000"/>
<rect x="289.71" y="437.37" width="7.25" height="5.25" fill="url(#hatch)" stroke="#000" stroke-width="1.15"/>
<rect x="289.13" y="436.8" width="8.4" height="1.5" fill="#000"/>
<rect x="305.89" y="439.29" width="7.25" height="3.85" fill="url(#hatch)" stroke="#000" stroke-width="1.15"/>
<rect x="305.31" y="438.72" width="8.4" height="1.5" fill="#000"/>
<rect x="322.09" y="440.33" width="7.2" height="1.9" fill="#000"/>
<rect x="338.25" y="440.63" width="7.25" height="3.55" fill="url(#hatch)" stroke="#000" stroke-width="1.15"/>
<rect x="337.67" y="440.05" width="8.4" height="1.5" fill="#000"/>
<text x="60.4" y="445.2" style="font-size:12.5px;" text-anchor="end" >0</text>
<text x="60.4" y="419.66" style="font-size:12.5px;" text-anchor="end" >50</text>
<text x="60.4" y="394.12" style="font-size:12.5px;" text-anchor="end" >100</text>
<text x="60.4" y="368.58" style="font-size:12.5px;" text-anchor="end" >150</text>
<text x="60.4" y="343.04" style="font-size:12.5px;" text-anchor="end" >200</text>
<text x="60.4" y="317.5" style="font-size:12.5px;" text-anchor="end" >250</text>
<text x="73.4" y="462.6" style="font-size:12px;" text-anchor="middle" >20</text>
<text x="105.78" y="463.65" style="font-size:12px;" text-anchor="middle" >25</text>
<text x="138.15" y="464.69" style="font-size:12px;" text-anchor="middle" >30</text>
<text x="170.53" y="465.74" style="font-size:12px;" text-anchor="middle" >35</text>
<text x="202.91" y="466.79" style="font-size:12px;" text-anchor="middle" >40</text>
<text x="235.28" y="467.84" style="font-size:12px;" text-anchor="middle" >45</text>
<text x="267.66" y="468.88" style="font-size:12px;" text-anchor="middle" >50</text>
<text x="300.04" y="469.93" style="font-size:12px;" text-anchor="middle" >55</text>
<text x="332.41" y="470.98" style="font-size:12px;" text-anchor="middle" >60</text>
<text x="362.06" y="451.21" style="font-size:11.5px;" text-anchor="start" textLength="40.7" lengthAdjust="spacingAndGlyphs" >300-500</text>
<text x="364.99" y="439.64" style="font-size:11.5px;" text-anchor="start" textLength="46.9" lengthAdjust="spacingAndGlyphs" >500-1250</text>
<text x="367.91" y="428.06" style="font-size:11.5px;" text-anchor="start" textLength="53.5" lengthAdjust="spacingAndGlyphs" >1250-2000</text>
<text x="370.84" y="416.49" style="font-size:11.5px;" text-anchor="start" textLength="31.8" lengthAdjust="spacingAndGlyphs" >2000≤</text>
<text x="192.3" y="491.3" style="font-size:14.5px;" text-anchor="start" textLength="31.6" lengthAdjust="spacingAndGlyphs" >ENC</text>
<text x="29.2" y="382" style="font-size:16.8px;" text-anchor="start" textLength="39.6" lengthAdjust="spacingAndGlyphs" transform="rotate(-90 29.2 382)" >Count</text>
<text x="438.3" y="448" style="font-size:13.2px;" text-anchor="start" textLength="36.7" lengthAdjust="spacingAndGlyphs" transform="rotate(-90 438.3 448)" >Length</text>
<text x="1.3" y="268" style="font-size:24px;" text-anchor="start" >b</text>
<polygon points="85.8,649.7 360.2,658.5 360.2,529.6 85.8,520.8" fill="#fff" stroke="none" stroke-width="0" />
<line x1="85.8" y1="649.7" x2="360.2" y2="658.5" stroke="#000" stroke-width="1.12"/>
<line x1="85.8" y1="631.29" x2="360.2" y2="640.09" stroke="#000" stroke-width="1.12"/>
<line x1="85.8" y1="612.87" x2="360.2" y2="621.67" stroke="#000" stroke-width="1.12"/>
<line x1="85.8" y1="594.46" x2="360.2" y2="603.26" stroke="#000" stroke-width="1.12"/>
<line x1="85.8" y1="576.04" x2="360.2" y2="584.84" stroke="#000" stroke-width="1.12"/>
<line x1="85.8" y1="557.63" x2="360.2" y2="566.43" stroke="#000" stroke-width="1.12"/>
<line x1="85.8" y1="539.21" x2="360.2" y2="548.01" stroke="#000" stroke-width="1.12"/>
<line x1="85.8" y1="520.8" x2="360.2" y2="529.6" stroke="#000" stroke-width="1.12"/>
<line x1="85.8" y1="649.7" x2="85.8" y2="520.8" stroke="#000" stroke-width="1.12"/>
<line x1="101.94" y1="650.22" x2="101.94" y2="521.32" stroke="#000" stroke-width="1.12"/>
<line x1="118.08" y1="650.74" x2="118.08" y2="521.84" stroke="#000" stroke-width="1.12"/>
<line x1="134.22" y1="651.25" x2="134.22" y2="522.35" stroke="#000" stroke-width="1.12"/>
<line x1="150.36" y1="651.77" x2="150.36" y2="522.87" stroke="#000" stroke-width="1.12"/>
<line x1="166.51" y1="652.29" x2="166.51" y2="523.39" stroke="#000" stroke-width="1.12"/>
<line x1="182.65" y1="652.81" x2="182.65" y2="523.91" stroke="#000" stroke-width="1.12"/>
<line x1="198.79" y1="653.32" x2="198.79" y2="524.42" stroke="#000" stroke-width="1.12"/>
<line x1="214.93" y1="653.84" x2="214.93" y2="524.94" stroke="#000" stroke-width="1.12"/>
<line x1="231.07" y1="654.36" x2="231.07" y2="525.46" stroke="#000" stroke-width="1.12"/>
<line x1="247.21" y1="654.88" x2="247.21" y2="525.98" stroke="#000" stroke-width="1.12"/>
<line x1="263.35" y1="655.39" x2="263.35" y2="526.49" stroke="#000" stroke-width="1.12"/>
<line x1="279.49" y1="655.91" x2="279.49" y2="527.01" stroke="#000" stroke-width="1.12"/>
<line x1="295.64" y1="656.43" x2="295.64" y2="527.53" stroke="#000" stroke-width="1.12"/>
<line x1="311.78" y1="656.95" x2="311.78" y2="528.05" stroke="#000" stroke-width="1.12"/>
<line x1="327.92" y1="657.46" x2="327.92" y2="528.56" stroke="#000" stroke-width="1.12"/>
<line x1="344.06" y1="657.98" x2="344.06" y2="529.08" stroke="#000" stroke-width="1.12"/>
<line x1="360.2" y1="658.5" x2="360.2" y2="529.6" stroke="#000" stroke-width="1.12"/>
<line x1="73.2" y1="696.4" x2="85.8" y2="649.7" stroke="#000" stroke-width="1.27"/>
<line x1="73.2" y1="677.84" x2="85.8" y2="631.29" stroke="#000" stroke-width="1.27"/>
<line x1="73.2" y1="659.29" x2="85.8" y2="612.87" stroke="#000" stroke-width="1.27"/>
<line x1="73.2" y1="640.73" x2="85.8" y2="594.46" stroke="#000" stroke-width="1.27"/>
<line x1="73.2" y1="622.17" x2="85.8" y2="576.04" stroke="#000" stroke-width="1.27"/>
<line x1="73.2" y1="603.61" x2="85.8" y2="557.63" stroke="#000" stroke-width="1.27"/>
<line x1="73.2" y1="585.06" x2="85.8" y2="539.21" stroke="#000" stroke-width="1.27"/>
<line x1="73.2" y1="566.5" x2="85.8" y2="520.8" stroke="#000" stroke-width="1.27"/>
<line x1="73.2" y1="696.4" x2="73.2" y2="566.5" stroke="#000" stroke-width="1.12"/>
<line x1="76.35" y1="684.73" x2="76.35" y2="555.08" stroke="#444" stroke-width="0.7"/>
<line x1="79.5" y1="673.05" x2="79.5" y2="543.65" stroke="#444" stroke-width="0.7"/>
<line x1="82.65" y1="661.38" x2="82.65" y2="532.23" stroke="#444" stroke-width="0.7"/>
<line x1="73.2" y1="696.4" x2="358.44" y2="705.62" stroke="#000" stroke-width="1.12"/>
<line x1="76.35" y1="684.73" x2="361.38" y2="693.92" stroke="#000" stroke-width="1.12"/>
<line x1="79.5" y1="673.05" x2="364.32" y2="682.22" stroke="#000" stroke-width="1.12"/>
<line x1="82.65" y1="661.38" x2="367.26" y2="670.52" stroke="#000" stroke-width="1.12"/>
<line x1="85.8" y1="649.7" x2="370.21" y2="658.82" stroke="#000" stroke-width="1.12"/>
<line x1="73.2" y1="696.4" x2="85.8" y2="649.7" stroke="#000" stroke-width="1.12"/>
<line x1="73.2" y1="696.4" x2="73.2" y2="704.6" stroke="#000" stroke-width="1.12"/>
<line x1="89.39" y1="696.92" x2="101.94" y2="650.22" stroke="#000" stroke-width="1.12"/>
<line x1="89.39" y1="696.92" x2="89.39" y2="705.12" stroke="#000" stroke-width="1.12"/>
<line x1="105.58" y1="697.45" x2="118.08" y2="650.74" stroke="#000" stroke-width="1.12"/>
<line x1="105.58" y1="697.45" x2="105.58" y2="705.65" stroke="#000" stroke-width="1.12"/>
<line x1="121.76" y1="697.97" x2="134.22" y2="651.25" stroke="#000" stroke-width="1.12"/>
<line x1="121.76" y1="697.97" x2="121.76" y2="706.17" stroke="#000" stroke-width="1.12"/>
<line x1="137.95" y1="698.49" x2="150.36" y2="651.77" stroke="#000" stroke-width="1.12"/>
<line x1="137.95" y1="698.49" x2="137.95" y2="706.69" stroke="#000" stroke-width="1.12"/>
<line x1="154.14" y1="699.02" x2="166.51" y2="652.29" stroke="#000" stroke-width="1.12"/>
<line x1="154.14" y1="699.02" x2="154.14" y2="707.22" stroke="#000" stroke-width="1.12"/>
<line x1="170.33" y1="699.54" x2="182.65" y2="652.81" stroke="#000" stroke-width="1.12"/>
<line x1="170.33" y1="699.54" x2="170.33" y2="707.74" stroke="#000" stroke-width="1.12"/>
<line x1="186.52" y1="700.06" x2="198.79" y2="653.32" stroke="#000" stroke-width="1.12"/>
<line x1="186.52" y1="700.06" x2="186.52" y2="708.26" stroke="#000" stroke-width="1.12"/>
<line x1="202.71" y1="700.59" x2="214.93" y2="653.84" stroke="#000" stroke-width="1.12"/>
<line x1="202.71" y1="700.59" x2="202.71" y2="708.79" stroke="#000" stroke-width="1.12"/>
<line x1="218.89" y1="701.11" x2="231.07" y2="654.36" stroke="#000" stroke-width="1.12"/>
<line x1="218.89" y1="701.11" x2="218.89" y2="709.31" stroke="#000" stroke-width="1.12"/>
<line x1="235.08" y1="701.64" x2="247.21" y2="654.88" stroke="#000" stroke-width="1.12"/>
<line x1="235.08" y1="701.64" x2="235.08" y2="709.84" stroke="#000" stroke-width="1.12"/>
<line x1="251.27" y1="702.16" x2="263.35" y2="655.39" stroke="#000" stroke-width="1.12"/>
<line x1="251.27" y1="702.16" x2="251.27" y2="710.36" stroke="#000" stroke-width="1.12"/>
<line x1="267.46" y1="702.68" x2="279.49" y2="655.91" stroke="#000" stroke-width="1.12"/>
<line x1="267.46" y1="702.68" x2="267.46" y2="710.88" stroke="#000" stroke-width="1.12"/>
<line x1="283.65" y1="703.21" x2="295.64" y2="656.43" stroke="#000" stroke-width="1.12"/>
<line x1="283.65" y1="703.21" x2="283.65" y2="711.41" stroke="#000" stroke-width="1.12"/>
<line x1="299.84" y1="703.73" x2="311.78" y2="656.95" stroke="#000" stroke-width="1.12"/>
<line x1="299.84" y1="703.73" x2="299.84" y2="711.93" stroke="#000" stroke-width="1.12"/>
<line x1="316.02" y1="704.25" x2="327.92" y2="657.46" stroke="#000" stroke-width="1.12"/>
<line x1="316.02" y1="704.25" x2="316.02" y2="712.45" stroke="#000" stroke-width="1.12"/>
<line x1="332.21" y1="704.78" x2="344.06" y2="657.98" stroke="#000" stroke-width="1.12"/>
<line x1="332.21" y1="704.78" x2="332.21" y2="712.98" stroke="#000" stroke-width="1.12"/>
<line x1="348.4" y1="705.3" x2="360.2" y2="658.5" stroke="#000" stroke-width="1.12"/>
<line x1="64" y1="696.4" x2="73.2" y2="696.4" stroke="#000" stroke-width="1.12"/>
<line x1="64" y1="677.84" x2="73.2" y2="677.84" stroke="#000" stroke-width="1.12"/>
<line x1="64" y1="659.29" x2="73.2" y2="659.29" stroke="#000" stroke-width="1.12"/>
<line x1="64" y1="640.73" x2="73.2" y2="640.73" stroke="#000" stroke-width="1.12"/>
<line x1="64" y1="622.17" x2="73.2" y2="622.17" stroke="#000" stroke-width="1.12"/>
<line x1="64" y1="603.61" x2="73.2" y2="603.61" stroke="#000" stroke-width="1.12"/>
<line x1="64" y1="585.06" x2="73.2" y2="585.06" stroke="#000" stroke-width="1.12"/>
<line x1="64" y1="566.5" x2="73.2" y2="566.5" stroke="#000" stroke-width="1.12"/>
<rect x="86.3" y="524.8" width="126.7" height="19.8" fill="#fff"/>
<text x="92.3" y="540.8" style="font-size:14px;font-style:italic;" text-anchor="start" textLength="114" lengthAdjust="spacingAndGlyphs" >D. melanogaster</text>
<rect x="153.06" y="654.75" width="7.25" height="2.85" fill="url(#xh)" stroke="#000" stroke-width="1.15"/>
<rect x="152.49" y="654.17" width="8.4" height="1.5" fill="#000"/>
<rect x="169.21" y="654.26" width="7.25" height="3.85" fill="url(#xh)" stroke="#000" stroke-width="1.15"/>
<rect x="168.63" y="653.69" width="8.4" height="1.5" fill="#000"/>
<rect x="185.36" y="653.38" width="7.25" height="5.25" fill="url(#xh)" stroke="#000" stroke-width="1.15"/>
<rect x="184.78" y="652.81" width="8.4" height="1.5" fill="#000"/>
<rect x="201.5" y="649.7" width="7.25" height="9.45" fill="url(#xh)" stroke="#000" stroke-width="1.15"/>
<rect x="200.93" y="649.13" width="8.4" height="1.5" fill="#000"/>
<rect x="217.65" y="636.52" width="7.25" height="23.15" fill="url(#xh)" stroke="#000" stroke-width="1.15"/>
<rect x="217.08" y="635.94" width="8.4" height="1.5" fill="#000"/>
<rect x="233.8" y="597.84" width="7.25" height="62.35" fill="url(#xh)" stroke="#000" stroke-width="1.15"/>
<rect x="233.22" y="597.26" width="8.4" height="1.5" fill="#000"/>
<rect x="249.94" y="579.86" width="7.25" height="80.85" fill="url(#xh)" stroke="#000" stroke-width="1.15"/>
<rect x="249.37" y="579.28" width="8.4" height="1.5" fill="#000"/>
<rect x="266.09" y="564.47" width="7.25" height="96.75" fill="url(#xh)" stroke="#000" stroke-width="1.15"/>
<rect x="265.52" y="563.9" width="8.4" height="1.5" fill="#000"/>
<rect x="282.24" y="541.09" width="7.25" height="120.65" fill="url(#xh)" stroke="#000" stroke-width="1.15"/>
<rect x="281.66" y="540.52" width="8.4" height="1.5" fill="#000"/>
<rect x="298.39" y="595.81" width="7.25" height="66.45" fill="url(#xh)" stroke="#000" stroke-width="1.15"/>
<rect x="297.81" y="595.24" width="8.4" height="1.5" fill="#000"/>
<rect x="314.53" y="596.93" width="7.25" height="65.85" fill="url(#xh)" stroke="#000" stroke-width="1.15"/>
<rect x="313.96" y="596.35" width="8.4" height="1.5" fill="#000"/>
<rect x="330.68" y="655.25" width="7.25" height="8.05" fill="url(#xh)" stroke="#000" stroke-width="1.15"/>
<rect x="330.1" y="654.67" width="8.4" height="1.5" fill="#000"/>
<rect x="134.01" y="663.61" width="8.05" height="5.15" fill="#000" stroke="#000" stroke-width="1.15"/>
<rect x="133.43" y="663.03" width="9.2" height="1.5" fill="#000"/>
<rect x="150.16" y="662.43" width="8.05" height="6.85" fill="#000" stroke="#000" stroke-width="1.15"/>
<rect x="149.59" y="661.85" width="9.2" height="1.5" fill="#000"/>
<rect x="166.32" y="652.65" width="8.05" height="17.15" fill="#000" stroke="#000" stroke-width="1.15"/>
<rect x="165.75" y="652.07" width="9.2" height="1.5" fill="#000"/>
<rect x="182.48" y="652.47" width="8.05" height="17.85" fill="#000" stroke="#000" stroke-width="1.15"/>
<rect x="181.91" y="651.89" width="9.2" height="1.5" fill="#000"/>
<rect x="198.64" y="634.69" width="8.05" height="36.15" fill="#000" stroke="#000" stroke-width="1.15"/>
<rect x="198.07" y="634.11" width="9.2" height="1.5" fill="#000"/>
<rect x="214.8" y="614.51" width="8.05" height="56.85" fill="#000" stroke="#000" stroke-width="1.15"/>
<rect x="214.23" y="613.93" width="9.2" height="1.5" fill="#000"/>
<rect x="230.96" y="601.03" width="8.05" height="70.85" fill="#000" stroke="#000" stroke-width="1.15"/>
<rect x="230.38" y="600.45" width="9.2" height="1.5" fill="#000"/>
<rect x="247.12" y="580.35" width="8.05" height="92.05" fill="#000" stroke="#000" stroke-width="1.15"/>
<rect x="246.54" y="579.77" width="9.2" height="1.5" fill="#000"/>
<rect x="263.28" y="603.17" width="8.05" height="69.75" fill="#000" stroke="#000" stroke-width="1.15"/>
<rect x="262.7" y="602.59" width="9.2" height="1.5" fill="#000"/>
<rect x="279.44" y="639.59" width="8.05" height="33.85" fill="#000" stroke="#000" stroke-width="1.15"/>
<rect x="278.86" y="639.01" width="9.2" height="1.5" fill="#000"/>
<rect x="295.59" y="619.81" width="8.05" height="54.15" fill="#000" stroke="#000" stroke-width="1.15"/>
<rect x="295.02" y="619.23" width="9.2" height="1.5" fill="#000"/>
<rect x="311.75" y="657.03" width="8.05" height="17.45" fill="#000" stroke="#000" stroke-width="1.15"/>
<rect x="311.18" y="656.45" width="9.2" height="1.5" fill="#000"/>
<rect x="327.91" y="661.75" width="8.05" height="13.25" fill="#000" stroke="#000" stroke-width="1.15"/>
<rect x="327.34" y="661.17" width="9.2" height="1.5" fill="#000"/>
<rect x="344.07" y="672.67" width="8.05" height="2.85" fill="#000" stroke="#000" stroke-width="1.15"/>
<rect x="343.5" y="672.09" width="9.2" height="1.5" fill="#000"/>
<rect x="130.9" y="674.09" width="7.25" height="6.35" fill="url(#dots)" stroke="#000" stroke-width="1.15"/>
<rect x="130.32" y="673.51" width="8.4" height="1.5" fill="#000"/>
<rect x="147.07" y="658.81" width="7.25" height="22.15" fill="url(#dots)" stroke="#000" stroke-width="1.15"/>
<rect x="146.49" y="658.23" width="8.4" height="1.5" fill="#000"/>
<rect x="163.24" y="657.13" width="7.25" height="24.35" fill="url(#dots)" stroke="#000" stroke-width="1.15"/>
<rect x="162.66" y="656.55" width="8.4" height="1.5" fill="#000"/>
<rect x="179.41" y="635.65" width="7.25" height="46.35" fill="url(#dots)" stroke="#000" stroke-width="1.15"/>
<rect x="178.83" y="635.08" width="8.4" height="1.5" fill="#000"/>
<rect x="195.58" y="624.47" width="7.25" height="58.05" fill="url(#dots)" stroke="#000" stroke-width="1.15"/>
<rect x="195" y="623.9" width="8.4" height="1.5" fill="#000"/>
<rect x="211.75" y="632.49" width="7.25" height="50.55" fill="url(#dots)" stroke="#000" stroke-width="1.15"/>
<rect x="211.18" y="631.92" width="8.4" height="1.5" fill="#000"/>
<rect x="227.92" y="620.72" width="7.25" height="62.85" fill="url(#dots)" stroke="#000" stroke-width="1.15"/>
<rect x="227.35" y="620.14" width="8.4" height="1.5" fill="#000"/>
<rect x="244.09" y="600.24" width="7.25" height="83.85" fill="url(#dots)" stroke="#000" stroke-width="1.15"/>
<rect x="243.52" y="599.66" width="8.4" height="1.5" fill="#000"/>
<rect x="260.26" y="621.76" width="7.25" height="62.85" fill="url(#dots)" stroke="#000" stroke-width="1.15"/>
<rect x="259.69" y="621.18" width="8.4" height="1.5" fill="#000"/>
<rect x="276.43" y="619.78" width="7.25" height="65.35" fill="url(#dots)" stroke="#000" stroke-width="1.15"/>
<rect x="275.86" y="619.2" width="8.4" height="1.5" fill="#000"/>
<rect x="292.6" y="640.9" width="7.25" height="44.75" fill="url(#dots)" stroke="#000" stroke-width="1.15"/>
<rect x="292.03" y="640.33" width="8.4" height="1.5" fill="#000"/>
<rect x="308.77" y="662.62" width="7.25" height="23.55" fill="url(#dots)" stroke="#000" stroke-width="1.15"/>
<rect x="308.2" y="662.05" width="8.4" height="1.5" fill="#000"/>
<rect x="324.94" y="677.94" width="7.25" height="8.75" fill="url(#dots)" stroke="#000" stroke-width="1.15"/>
<rect x="324.37" y="677.37" width="8.4" height="1.5" fill="#000"/>
<rect x="341.11" y="679.86" width="7.25" height="7.35" fill="url(#dots)" stroke="#000" stroke-width="1.15"/>
<rect x="340.54" y="679.29" width="8.4" height="1.5" fill="#000"/>
<rect x="112.31" y="688.24" width="7.25" height="3.35" fill="url(#hatch)" stroke="#000" stroke-width="1.15"/>
<rect x="111.73" y="687.67" width="8.4" height="1.5" fill="#000"/>
<rect x="128.49" y="687.87" width="7.25" height="4.25" fill="url(#hatch)" stroke="#000" stroke-width="1.15"/>
<rect x="127.91" y="687.29" width="8.4" height="1.5" fill="#000"/>
<rect x="144.67" y="678.49" width="7.25" height="14.15" fill="url(#hatch)" stroke="#000" stroke-width="1.15"/>
<rect x="144.1" y="677.92" width="8.4" height="1.5" fill="#000"/>
<rect x="160.85" y="677.71" width="7.25" height="15.45" fill="url(#hatch)" stroke="#000" stroke-width="1.15"/>
<rect x="160.28" y="677.14" width="8.4" height="1.5" fill="#000"/>
<rect x="177.04" y="669.34" width="7.25" height="24.35" fill="url(#hatch)" stroke="#000" stroke-width="1.15"/>
<rect x="176.46" y="668.76" width="8.4" height="1.5" fill="#000"/>
<rect x="193.22" y="673.96" width="7.25" height="20.25" fill="url(#hatch)" stroke="#000" stroke-width="1.15"/>
<rect x="192.64" y="673.38" width="8.4" height="1.5" fill="#000"/>
<rect x="209.4" y="677.68" width="7.25" height="17.05" fill="url(#hatch)" stroke="#000" stroke-width="1.15"/>
<rect x="208.83" y="677.11" width="8.4" height="1.5" fill="#000"/>
<rect x="225.58" y="685.2" width="7.25" height="10.05" fill="url(#hatch)" stroke="#000" stroke-width="1.15"/>
<rect x="225.01" y="684.63" width="8.4" height="1.5" fill="#000"/>
<rect x="241.76" y="683.53" width="7.25" height="12.25" fill="url(#hatch)" stroke="#000" stroke-width="1.15"/>
<rect x="241.19" y="682.95" width="8.4" height="1.5" fill="#000"/>
<rect x="257.95" y="674.05" width="7.25" height="22.25" fill="url(#hatch)" stroke="#000" stroke-width="1.15"/>
<rect x="257.37" y="673.47" width="8.4" height="1.5" fill="#000"/>
<rect x="274.13" y="688.97" width="7.25" height="7.85" fill="url(#hatch)" stroke="#000" stroke-width="1.15"/>
<rect x="273.55" y="688.4" width="8.4" height="1.5" fill="#000"/>
<rect x="290.31" y="687.1" width="7.25" height="10.25" fill="url(#hatch)" stroke="#000" stroke-width="1.15"/>
<rect x="289.74" y="686.52" width="8.4" height="1.5" fill="#000"/>
<rect x="306.49" y="678.62" width="7.25" height="19.25" fill="url(#hatch)" stroke="#000" stroke-width="1.15"/>
<rect x="305.92" y="678.04" width="8.4" height="1.5" fill="#000"/>
<rect x="322.68" y="696.14" width="7.25" height="2.25" fill="url(#hatch)" stroke="#000" stroke-width="1.15"/>
<rect x="322.1" y="695.57" width="8.4" height="1.5" fill="#000"/>
<rect x="338.86" y="696.16" width="7.25" height="2.75" fill="url(#hatch)" stroke="#000" stroke-width="1.15"/>
<rect x="338.28" y="695.59" width="8.4" height="1.5" fill="#000"/>
<text x="61" y="701" style="font-size:12.5px;" text-anchor="end" >0</text>
<text x="61" y="682.44" style="font-size:12.5px;" text-anchor="end" >10</text>
<text x="61" y="663.89" style="font-size:12.5px;" text-anchor="end" >20</text>
<text x="61" y="645.33" style="font-size:12.5px;" text-anchor="end" >30</text>
<text x="61" y="626.77" style="font-size:12.5px;" text-anchor="end" >40</text>
<text x="61" y="608.21" style="font-size:12.5px;" text-anchor="end" >50</text>
<text x="61" y="589.66" style="font-size:12.5px;" text-anchor="end" >60</text>
<text x="61" y="571.1" style="font-size:12.5px;" text-anchor="end" >70</text>
<text x="74" y="717.4" style="font-size:12px;" text-anchor="middle" >20</text>
<text x="106.38" y="718.45" style="font-size:12px;" text-anchor="middle" >25</text>
<text x="138.75" y="719.49" style="font-size:12px;" text-anchor="middle" >30</text>
<text x="171.13" y="720.54" style="font-size:12px;" text-anchor="middle" >35</text>
<text x="203.51" y="721.59" style="font-size:12px;" text-anchor="middle" >40</text>
<text x="235.88" y="722.64" style="font-size:12px;" text-anchor="middle" >45</text>
<text x="268.26" y="723.68" style="font-size:12px;" text-anchor="middle" >50</text>
<text x="300.64" y="724.73" style="font-size:12px;" text-anchor="middle" >55</text>
<text x="333.01" y="725.78" style="font-size:12px;" text-anchor="middle" >60</text>
<text x="362.68" y="706.25" style="font-size:11.5px;" text-anchor="start" textLength="40.7" lengthAdjust="spacingAndGlyphs" >300-500</text>
<text x="365.62" y="694.55" style="font-size:11.5px;" text-anchor="start" textLength="46.9" lengthAdjust="spacingAndGlyphs" >500-1250</text>
<text x="368.57" y="682.85" style="font-size:11.5px;" text-anchor="start" textLength="53.5" lengthAdjust="spacingAndGlyphs" >1250-2000</text>
<text x="371.52" y="671.15" style="font-size:11.5px;" text-anchor="start" textLength="31.8" lengthAdjust="spacingAndGlyphs" >2000≤</text>
<text x="192.3" y="746.3" style="font-size:14.5px;" text-anchor="start" textLength="31.6" lengthAdjust="spacingAndGlyphs" >ENC</text>
<text x="29.4" y="634.2" style="font-size:16.8px;" text-anchor="start" textLength="39.6" lengthAdjust="spacingAndGlyphs" transform="rotate(-90 29.4 634.2)" >Count</text>
<text x="439.3" y="703" style="font-size:13.2px;" text-anchor="start" textLength="36.7" lengthAdjust="spacingAndGlyphs" transform="rotate(-90 439.3 703)" >Length</text>
<text x="1" y="521.2" style="font-size:24px;" text-anchor="start" >c</text>
</svg>
</body></html>
